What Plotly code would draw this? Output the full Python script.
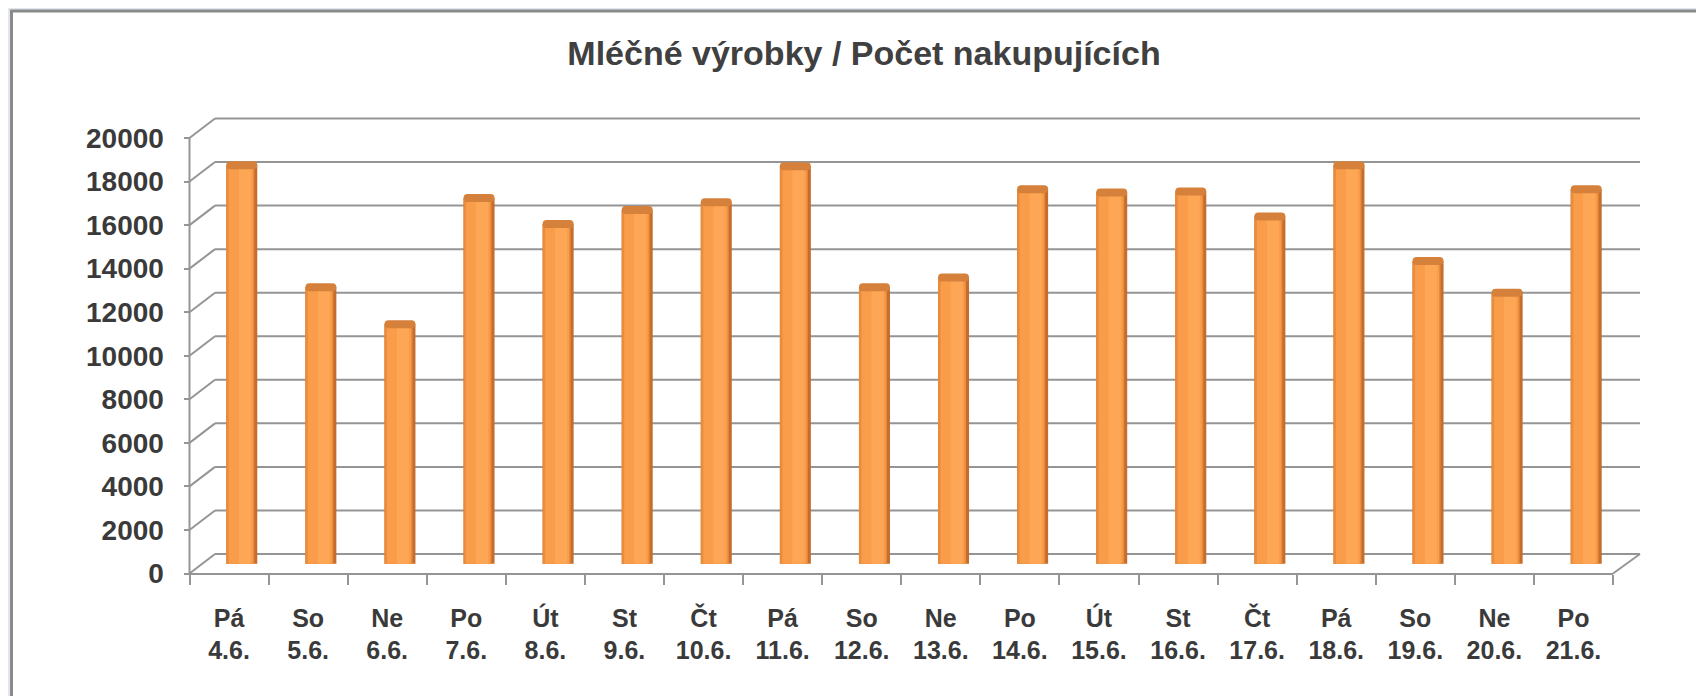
import plotly.graph_objects as go

# ---- data ----
days = ["Pá", "So", "Ne", "Po", "Út", "St", "Čt", "Pá", "So", "Ne", "Po", "Út", "St", "Čt", "Pá", "So", "Ne", "Po"]
dates = ["4.6.", "5.6.", "6.6.", "7.6.", "8.6.", "9.6.", "10.6.", "11.6.", "12.6.", "13.6.",
         "14.6.", "15.6.", "16.6.", "17.6.", "18.6.", "19.6.", "20.6.", "21.6."]
shoppers = [18300, 12700, 11000, 16800, 15600, 16250, 16600, 18250, 12700, 13150,
            17200, 17050, 17100, 15950, 18300, 13900, 12450, 17200]
y_ticks = [0, 2000, 4000, 6000, 8000, 10000, 12000, 14000, 16000, 18000, 20000]
title_text = "Mléčné výrobky / Počet nakupujících"

# ---- geometry (page pixels; figure is offset by the page's body margin) ----
W, H = 1704, 696
PAGE_OFF = 8
def fx(p):  # page x -> paper x
    return (p - PAGE_OFF) / W
def fy(p):  # page y -> paper y
    return (H - (p - PAGE_OFF)) / H

FRONT_X0, FRONT_X1 = 189.5, 1613.0
BACK_X0, BACK_X1 = 215.0, 1640.0
MID_ZERO_PX = 563.75          # page row of value 0 at bar depth
SCALE = 435.5 / 20000         # px per unit
DEPTH_DY = 9.75               # px between bar depth and back/front walls
CAT_PX = (FRONT_X1 - FRONT_X0) / len(days)
DEPTH_DX_CAT = 12.75 / CAT_PX  # bar shift in category units

Y_RANGE = [-1500, 21000]
y_dom = [fy(MID_ZERO_PX - Y_RANGE[0] * SCALE), fy(MID_ZERO_PX - Y_RANGE[1] * SCALE)]
off_units = DEPTH_DY / SCALE   # value offset front/back

cats = [f"{d}<br>{dt}" for d, dt in zip(days, dates)]

GRID = "#959595"
TEXT = "#3a3a3a"
FONT = "Liberation Sans, Arial, sans-serif"

fig = go.Figure()

PXU = 1.0 / CAT_PX   # one pixel in category units
# cylinder shading layers: (width px, centre shift px, colour)
layers = [
    (31, 0.0, "#c46d2d"),
    (28, -1.5, "#ea8c3d"),
    (24, -1.0, "#f99d4a"),
    (12, 3.0, "#fda756"),
]
for wpx, dpx, col in layers:
    w = wpx * PXU
    fig.add_trace(go.Bar(
        x=cats, y=shoppers, width=[w] * len(cats),
        offset=[DEPTH_DX_CAT + dpx * PXU - w / 2] * len(cats),
        marker=dict(color=col, line=dict(width=0)),
        hoverinfo="skip", showlegend=False,
    ))
# cylinder top caps
cap = 4.0 / SCALE
CAP_W = 31 * PXU
fig.add_trace(go.Bar(
    x=cats, y=[2 * cap] * len(cats), base=[v - cap for v in shoppers],
    width=[CAP_W] * len(cats), offset=[DEPTH_DX_CAT - CAP_W / 2] * len(cats),
    marker=dict(color="#d5803b", line=dict(width=0), cornerradius=8),
    hoverinfo="skip", showlegend=False,
))

shapes = []
# white panel with grey border
shapes.append(dict(type="rect", xref="paper", yref="paper", x0=fx(11.5), x1=1.02, y0=-0.05, y1=fy(11.0),
                   fillcolor="white", line=dict(color="#8a8a8a", width=3), layer="below"))
# back wall gridlines + left wall diagonals
for v in y_ticks:
    shapes.append(dict(type="line", xref="paper", yref="y", x0=fx(BACK_X0), x1=fx(BACK_X1),
                       y0=v + off_units, y1=v + off_units, line=dict(color=GRID, width=2), layer="below"))
    shapes.append(dict(type="line", xref="paper", yref="y", x0=fx(FRONT_X0), x1=fx(BACK_X0),
                       y0=v - off_units, y1=v + off_units, line=dict(color=GRID, width=2), layer="below"))
# front vertical axis line
shapes.append(dict(type="line", xref="paper", yref="y", x0=fx(FRONT_X0), x1=fx(FRONT_X0),
                   y0=y_ticks[0] - off_units, y1=y_ticks[-1] - off_units, line=dict(color=GRID, width=2), layer="below"))
# right floor edge
shapes.append(dict(type="line", xref="paper", yref="y", x0=fx(FRONT_X1), x1=fx(BACK_X1),
                   y0=y_ticks[0] - off_units, y1=y_ticks[0] + off_units, line=dict(color=GRID, width=2), layer="below"))

fig.update_layout(
    width=W, height=H,
    margin=dict(l=0, r=0, t=0, b=0),
    paper_bgcolor="#e2e6ee",
    plot_bgcolor="rgba(0,0,0,0)",
    barmode="overlay",
    shapes=shapes,
    title=dict(text=title_text, x=fx(864), xanchor="center", xref="paper",
               y=fy(53), yanchor="middle",
               font=dict(family=FONT, size=34, color="#404040", weight="bold")),
    xaxis=dict(
        domain=[fx(FRONT_X0), fx(FRONT_X1)], anchor="free", position=fy(MID_ZERO_PX + DEPTH_DY),
        type="category", range=[-0.5, len(cats) - 0.5],
        showline=True, linecolor=GRID, linewidth=2,
        ticks="outside", tickson="boundaries", ticklen=10, tickwidth=2, tickcolor=GRID,
        showgrid=False, zeroline=False, automargin=False,
        tickfont=dict(family=FONT, size=25, color=TEXT, weight="bold"),
        ticklabelstandoff=22,
    ),
    yaxis=dict(
        domain=y_dom, range=Y_RANGE, anchor="free", position=fx(FRONT_X0),
        tickvals=[v - off_units for v in y_ticks], ticktext=[str(v) for v in y_ticks],
        ticks="outside", ticklen=6, tickwidth=2, tickcolor=GRID,
        showgrid=False, zeroline=False, showline=False, automargin=False,
        tickfont=dict(family=FONT, size=28, color=TEXT, weight="bold"),
        ticklabelstandoff=14,
    ),
)

fig.write_html("out.html")
